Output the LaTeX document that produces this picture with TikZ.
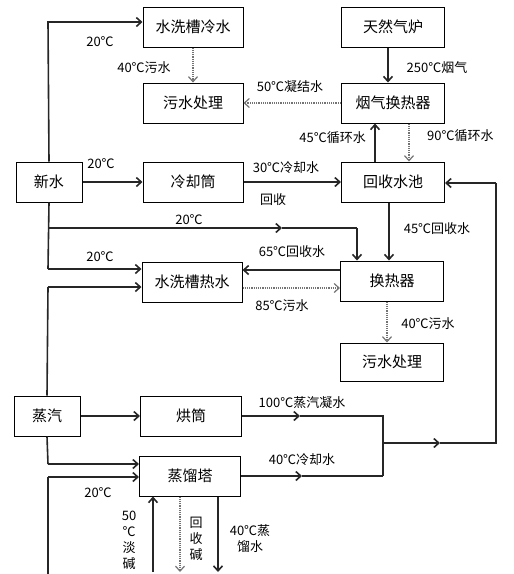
\documentclass[tikz,border=0pt]{standalone}
\usepackage{fontspec}
\newfontfamily\cjk{Noto Sans CJK SC}
\usetikzlibrary{arrows.meta}
\tikzset{
  box/.style  = {rectangle, draw, line width=1pt, minimum width=100pt, minimum height=40pt, inner sep=0, font=\cjk\fontsize{15}{17}\selectfont},
  link/.style = {line width=1.6pt, draw=black!85},
  wast/.style = {line width=1.2pt, densely dotted, draw=black!55},
  tip/.style  = {-{Straight Barb[length=5pt,width=9pt]}},
  et/.style   = {font=\cjk\fontsize{13}{16}\selectfont, inner sep=0, align=center}
}

\begin{document}
\begin{tikzpicture}[x=1pt,y=-1pt]
  \useasboundingbox (0,0) rectangle (514,574);

  % boxes
  \node[box] (lw)  at (193,27)  {水洗槽冷水};
  \node[box] (ws1) at (193,103) {污水处理};
  \node[box, minimum width=66pt] (xs) at (49,182) {新水};
  \node[box] (lq)  at (193,182) {冷却筒};
  \node[box, minimum width=103pt] (tr) at (393,27)  {天然气炉};
  \node[box, minimum width=103pt] (yq) at (393,103) {烟气换热器};
  \node[box, minimum width=103pt] (hc) at (393,182) {回收水池};
  \node[box] (rs)  at (192,282) {水洗槽热水};
  \node[box, minimum width=103pt] (hr) at (392,281) {换热器};
  \node[box, minimum width=103pt, minimum height=38pt] (ws2) at (392,362) {污水处理};
  \node[box, minimum width=66pt] (zq) at (47,416) {蒸汽};
  \node[box, minimum width=101pt] (hg) at (191,416) {烘筒};
  \node[box, minimum width=101pt] (zl) at (190,476) {蒸馏塔};

  % corners and free ends
  \coordinate (t1) at (48,22);
  \coordinate (j1) at (48,228);  \coordinate (m1) at (282,228); \coordinate (k1) at (357,228);
  \coordinate (j2) at (48,269);
  \coordinate (s1) at (48,287);
  \coordinate (s2) at (48,464);
  \coordinate (b0) at (48,574);  \coordinate (s3) at (48,477);
  \coordinate (a1) at (300,416); \coordinate (p1) at (383,416);
  \coordinate (a2) at (302,476); \coordinate (p2) at (383,476);
  \coordinate (p3) at (383,443); \coordinate (a3) at (440,443);
  \coordinate (p4) at (496,443); \coordinate (p5) at (496,183);
  \coordinate (b1) at (153,572); \coordinate (b2) at (180,572); \coordinate (b3) at (218,572);

  % fresh water
  \draw[link,tip] (xs.north) -- (t1) -- (t1 -| lw.west);
  \node[et] at (100,42) {20℃};
  \draw[link,tip] (xs.east) -- (lq.west);
  \node[et] at (101,164) {20℃};
  \draw[link] (xs.south) -- (j2);
  \draw[link,tip] (j2) -- (j2 -| rs.west);
  \node[et] at (100,257) {20℃};
  \draw[link,tip] (j1) -- (m1);
  \draw[link] (m1) -- (k1);
  \draw[link,tip] (k1) -- (k1 |- hr.north);
  \node[et] at (189,220) {20℃};

  % upper right
  \draw[wast,tip] (lw.south) -- (ws1.north);
  \node[et] at (144,68) {40℃污水};
  \draw[link,tip] ([xshift=-5pt]tr.south) -- ([xshift=-5pt]yq.north);
  \node[et] at (437,68) {250℃烟气};
  \draw[wast,tip] (yq.west) -- (ws1.east);
  \node[et] at (290,87) {50℃凝结水};
  \draw[link,tip] ([xshift=-18pt]hc.north) -- ([xshift=-18pt]yq.south);
  \node[et,anchor=east] at (366,138) {45℃循环水};
  \draw[wast,tip] ([xshift=16pt]yq.south) -- ([xshift=16pt]hc.north);
  \node[et,anchor=west] at (427,136) {90℃循环水};
  \draw[link,tip] (lq.east) -- (hc.west);
  \node[et] at (286,168) {30℃冷却水};
  \node[et] at (273,200) {回收};

  % heat exchanger
  \draw[link,tip] ([xshift=-4pt]hc.south) -- ([xshift=-3pt]hr.north);
  \node[et] at (437,229) {45℃回收水};
  \draw[link,tip] ([yshift=11pt]hr.west) -- ([yshift=12pt]rs.east);
  \node[et] at (292,252) {65℃回收水};
  \draw[wast,tip] ([yshift=-6pt]rs.east) -- ([yshift=-7pt]hr.west);
  \node[et] at (282,306) {85℃污水};
  \draw[wast,tip] ([xshift=-5pt]hr.south) -- ([xshift=-5pt]ws2.north);
  \node[et] at (428,324) {40℃污水};

  % steam
  \draw[link,tip] (zq.east) -- (hg.west);
  \draw[link] (zq.north) -- (s1);
  \draw[link,tip] (s1) -- (s1 -| rs.west);
  \draw[link] (zq.south) -- (s2);
  \draw[link,tip] (s2) -- (s2 -| zl.west);
  \draw[link] (b0) -- (s3);
  \draw[link,tip] (s3) -- (s3 -| zl.west);
  \node[et] at (98,493) {20℃};

  % return loop
  \draw[link,tip] (hg.east) -- (a1);
  \draw[link] (a1) -- (p1) -- (p2);
  \node[et] at (302,403) {100℃蒸汽凝水};
  \draw[link,tip] (zl.east) -- (a2);
  \draw[link] (a2) -- (p2);
  \node[et] at (302,460) {40℃冷却水};
  \draw[link,tip] (p3) -- (a3);
  \draw[link] (a3) -- (p4) -- (p5);
  \draw[link,tip] (p5) -- (p5 -| hc.east);

  % column
  \draw[link,tip] (b1) -- (b1 |- zl.south);
  \node[et] at (129,540) {50\\℃\\淡\\碱};
  \draw[wast,tip] (b2 |- zl.south) -- (b2);
  \node[et] at (196,539) {回\\收\\碱};
  \draw[link,tip] (b3 |- zl.south) -- (b3);
  \node[et] at (250,539) {40℃蒸\\馏水};
\end{tikzpicture}
\end{document}
